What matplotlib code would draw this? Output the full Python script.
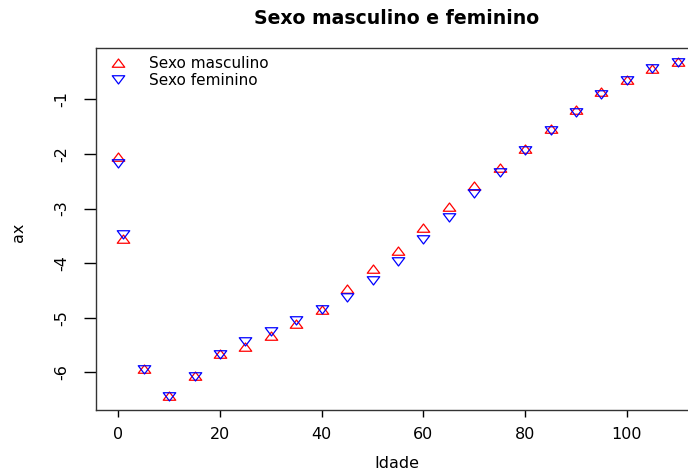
import matplotlib
matplotlib.use("Agg")
import matplotlib.pyplot as plt
from matplotlib.path import Path

plt.rcParams['font.family'] = ['DejaVu Sans']

idade = [0, 1, 5, 10, 15, 20, 25, 30, 35, 40, 45, 50, 55, 60, 65, 70, 75, 80, 85, 90, 95, 100, 105, 110]
masculino = [-2.06, -3.55, -5.93, -6.44, -6.07, -5.67, -5.53, -5.34, -5.11, -4.85, -4.47, -4.10, -3.77,
             -3.35, -2.98, -2.59, -2.26, -1.91, -1.55, -1.20, -0.86, -0.64, -0.44, -0.31]
feminino = [-2.16, -3.47, -5.94, -6.44, -6.07, -5.66, -5.42, -5.25, -5.04, -4.84, -4.62, -4.30, -3.96,
            -3.55, -3.15, -2.72, -2.33, -1.93, -1.57, -1.24, -0.90, -0.64, -0.43, -0.31]
yticks = [-1, -2, -3, -4, -5, -6]
ytick_labels = ["-1", "-2", "-3", "-4", "-5", "-6"]
xticks = [0, 20, 40, 60, 80, 100]

# wide, flat open triangles (as in the reference)
tri_up = Path([(-1, -0.6), (1, -0.6), (0, 0.72), (-1, -0.6)],
              [Path.MOVETO, Path.LINETO, Path.LINETO, Path.CLOSEPOLY])
tri_down = Path([(-1, 0.6), (1, 0.6), (0, -0.72), (-1, 0.6)],
                [Path.MOVETO, Path.LINETO, Path.LINETO, Path.CLOSEPOLY])

fig = plt.figure(figsize=(6.88, 4.72), dpi=100)
ax = fig.add_axes([96/688, 1-410/472, (700-96)/688, (410-48)/472])

ax.plot(idade, masculino, linestyle='none', marker=tri_up, markersize=9,
        markerfacecolor='none', markeredgecolor='#FF0000', markeredgewidth=0.9, label='Sexo masculino')
ax.plot(idade, feminino, linestyle='none', marker=tri_down, markersize=9,
        markerfacecolor='none', markeredgecolor='#0000FF', markeredgewidth=0.9, label='Sexo feminino')

ax.set_xlim(-4.4, 114.4)
ax.set_ylim(-6.69, -0.06)
ax.set_xticks(xticks)
ax.set_xticklabels([str(v) for v in xticks], fontsize=11.5)
ax.set_yticks(yticks)
ax.set_yticklabels(ytick_labels, fontsize=11.5, rotation=90, va='center')
ax.tick_params(axis='x', length=5, width=1, color='black', pad=7.5)
ax.tick_params(axis='y', length=8.6, width=1, color='black', pad=10.5)
for s in ax.spines.values():
    s.set_color('#333333')
    s.set_linewidth(1.0)

ax.set_xlabel('Idade', fontsize=11.5, va='center', ha='center')
ax.xaxis.set_label_coords((397-96)/604, (410-463)/362)
ax.set_ylabel('ax', fontsize=11.5, va='center', ha='center')
ax.yaxis.set_label_coords((19-96)/604, (410-232)/362)
fig.text(397/688, 1-19/472, 'Sexo masculino e feminino', fontsize=13.6, fontweight='bold',
         ha='center', va='center')

ax.legend(loc='upper left', bbox_to_anchor=(108/688, 1-56/472), bbox_transform=fig.transFigure,
          frameon=False, fontsize=11, handletextpad=1.4, labelspacing=0.1,
          borderaxespad=0, borderpad=0, handlelength=1.3)

fig.savefig('out.png', dpi=100)
